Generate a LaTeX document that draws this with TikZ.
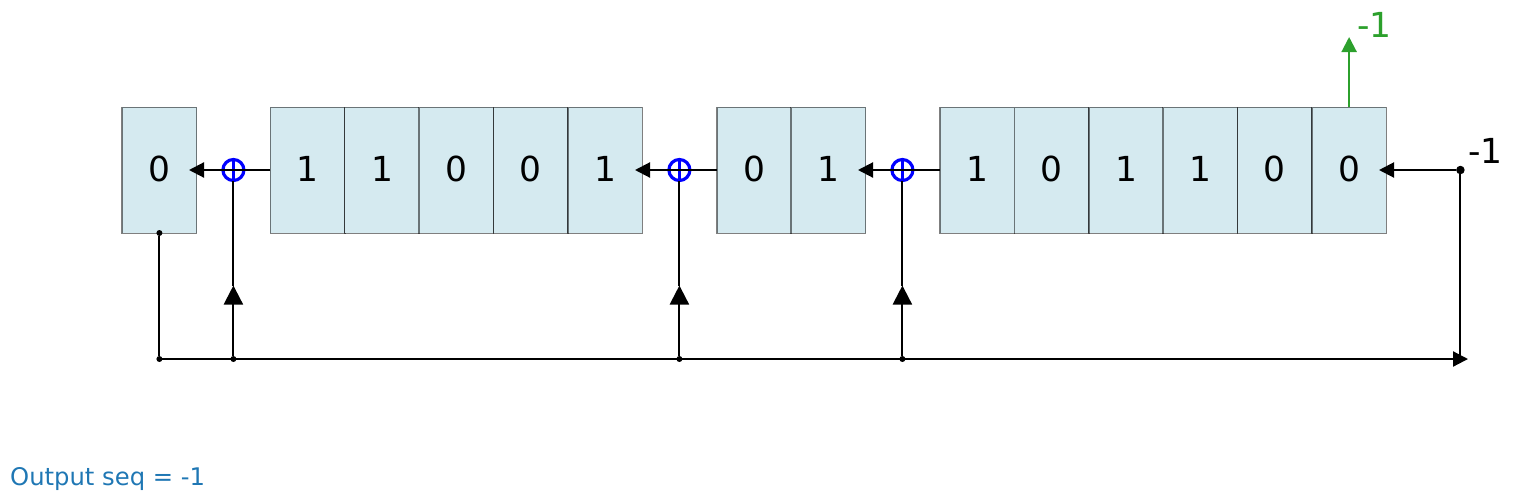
\documentclass[tikz,border=0pt]{standalone}
\usepackage{fontspec}
\setmainfont{DejaVu Sans}
\usetikzlibrary{arrows.meta}
\definecolor{cellblue}{HTML}{D5EAF0}
\definecolor{seqgreen}{HTML}{2CA02C}
\definecolor{seqblue}{HTML}{1F77B4}
\tikzset{
cell/.style={draw=black,draw opacity=0.5,line width=0.4pt,fill=cellblue,minimum width=0.744cm,minimum height=1.26cm,inner sep=0pt,outer sep=0pt,text depth=0.03cm,font=\fontsize{9.8}{12}\selectfont},
xorgate/.style={circle,draw=blue,line width=0.9pt,minimum size=0.21cm,inner sep=0pt,outer sep=0pt,path picture={\draw[blue,line width=0.9pt] (path picture bounding box.north) -- (path picture bounding box.south);}},
wire/.style={line width=0.6pt},
smalldot/.style={circle,fill=black,minimum size=0.06cm,inner sep=0pt,outer sep=0pt},
bigdot/.style={circle,fill=black,minimum size=0.085cm,inner sep=0pt,outer sep=0pt},
small tip/.style={-{Triangle[length=0.15cm,width=0.15cm]}},
big tip/.style={-{Triangle[length=0.19cm,width=0.19cm]}}
}
\begin{document}
\begin{tikzpicture}[x=0.01cm,y=-0.01cm]
\useasboundingbox (0,0) rectangle (1537,500);
% register cells
\foreach \x/\b/\n in {159.4/0/0,307.6/1/1,382/1/2,456.4/0/3,530.8/0/4,605.2/1/5,754.4/0/6,828.4/1/7,977.3/1/8,1051.6/0/9,1126/1/10,1200.4/1/11,1274.8/0/12,1349.1/0/13}
\node[cell] (c\n) at (\x,170.4) {\b};
% adders
\foreach \x/\n in {233.4/1,679.4/2,902.4/3}
\node[xorgate] (x\n) at (\x,170) {};
\node[smalldot] (d0) at (159.4,233) {};
\node[smalldot] (d1) at (159.4,359) {};
\foreach \x/\n in {233.4/1,679.4/2,902.4/3}
\node[smalldot] (t\n) at (\x,359) {};
\node[bigdot] (d2) at (1460.4,170) {};
\coordinate (e0) at (189,170);
\coordinate (e1) at (635,170);
\coordinate (e2) at (858,170);
\coordinate (e3) at (1379,170);
\coordinate (e4) at (1468,359);
\coordinate (e5) at (1349.1,37);
\foreach \x/\n in {233.4/1,679.4/2,902.4/3}
\coordinate (a\n) at (\x,285.5);
% shift paths
\draw[wire,small tip] (c1.west |- x1) -- (e0);
\draw[wire,small tip] (c6.west |- x2) -- (e1);
\draw[wire,small tip] (c8.west |- x3) -- (e2);
\draw[wire,small tip] (d2) -- (e3);
\draw[wire] (d2) -- (d2 |- e4);
\draw[wire] (d0) -- (d1);
\draw[wire,small tip] (d1) -- (e4);
% feedback taps
\foreach \n in {1,2,3}
{
\draw[wire,big tip] (t\n) -- (a\n);
\draw[wire] (a\n) -- (x\n.south);
}
\draw[seqgreen,wire,small tip] (c13.north) -- (e5);
\node[seqgreen,font=\fontsize{9.8}{12}\selectfont] (outbit) at (1374.5,25) {-1};
\node[font=\fontsize{9.8}{12}\selectfont] (inbit) at (1485.5,151) {-1};
\node[seqblue,font=\fontsize{6.9}{9}\selectfont,anchor=west,inner sep=0pt] (outseq) at (9.5,479) {Output seq = -1};
\end{tikzpicture}
\end{document}
